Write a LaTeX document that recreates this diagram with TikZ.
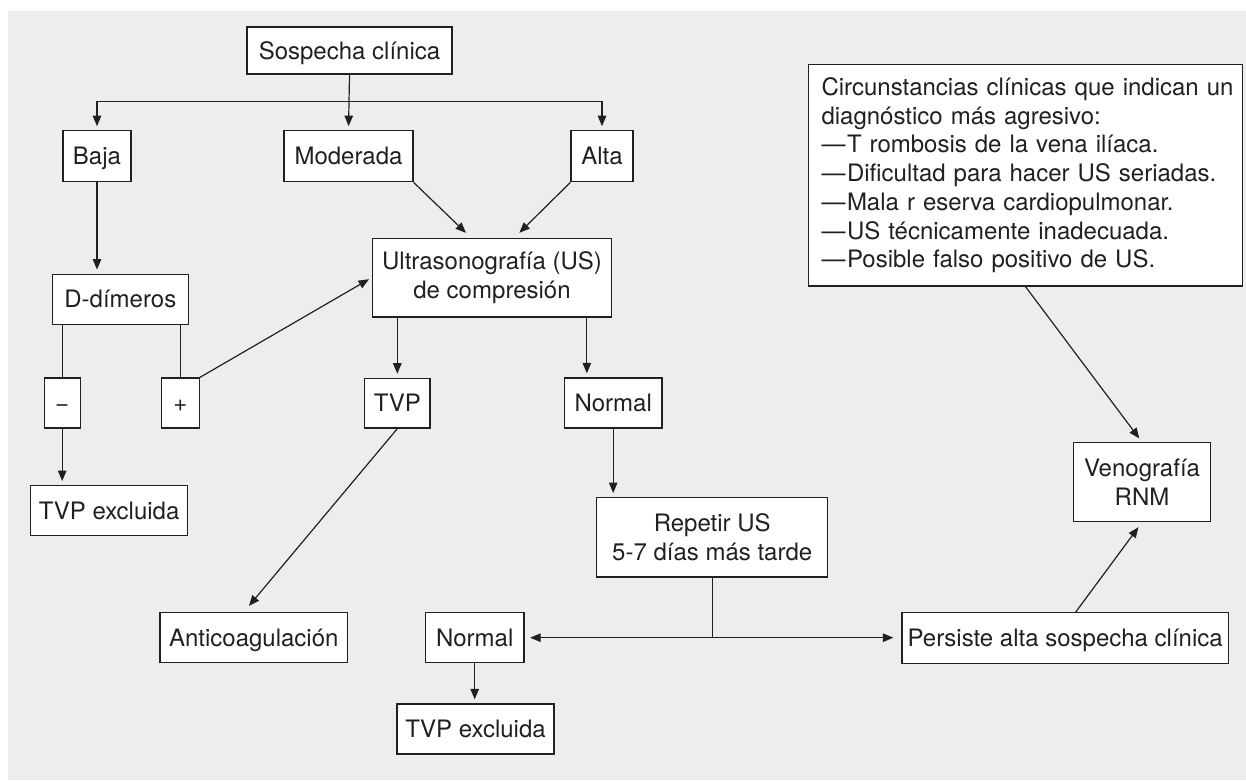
\documentclass[tikz,border=0pt]{standalone}
\usepackage{fontspec}
\setmainfont{TeX Gyre Heros}
\usetikzlibrary{arrows.meta,calc}
\definecolor{ink}{HTML}{231F20}
\definecolor{panel}{HTML}{EDEDED}

\begin{document}
\begin{tikzpicture}[x=1pt,y=-1pt,
  font=\fontsize{24}{28.7}\selectfont,
  box/.style={draw=ink, line width=1.3pt, fill=white, text=ink, inner sep=0pt, align=center},
  one/.style={box, text height=17pt, text depth=0pt},
  two/.style={box},
  sz/.style 2 args={minimum width=#1pt, minimum height=#2pt},
  conn/.style={draw=ink, line width=1.2pt},
  arr/.style={conn, -{Triangle[length=10.5pt,width=8.5pt]}, shorten >=4pt},
]
\useasboundingbox (0,0) rectangle (1246,780);
\fill[panel] (8,11) rectangle (1246,780);

% boxes
\node[one, sz={205}{47}]    (sosp) at (349.5,50.5)  {Sospecha clínica};
\node[one, sz={68}{51}]     (baja) at (97,156.3)    {Baja};
\node[one, sz={129}{51}]    (mod)  at (348.5,156.3) {Moderada};
\node[one, sz={62}{51}]     (alta) at (602,156.3)   {Alta};
\node[one, sz={136}{50}]    (dd)   at (120.3,299.2) {D-dímeros};
\node[one, sz={36}{50}]     (neg)  at (62.2,403)    {−};
\node[one, sz={38}{50}]     (pos)  at (180.3,403)   {+};
\node[two, sz={239.4}{78.7}] (us)  at (492,277.7)   {Ultrasonografía (US)\\de compresión};
\node[one, sz={65.5}{49.7}] (tvp)  at (397.3,403.2) {TVP};
\node[one, sz={97.7}{50}]   (nor1) at (613.2,403)   {Normal};
\node[one, sz={157}{50}]    (exc1) at (109.2,510.7) {TVP excluida};
\node[one, sz={187.7}{50}]  (anti) at (253.8,637.7) {Anticoagulación};
\node[two, sz={231}{79.3}]  (rep)  at (712.2,537.3) {Repetir US\\5-7 días más tarde};
\node[one, sz={98.6}{50}]   (nor2) at (474.7,637.7) {Normal};
\node[one, sz={157}{50}]    (exc2) at (475.5,729)   {TVP excluida};
\node[one, sz={326.4}{50.6}] (pers) at (1065.2,638) {Persiste alta sospecha clínica};
\node[two, sz={137.4}{79}]  (veno) at (1142,482.2)  {Venografía\\RNM};
\node[box, anchor=north west, text width=408pt, inner xsep=12.85pt, inner ysep=13pt, align=left]
  (circ) at (808,64) {%
  \mbox{Circunstancias clínicas que indican un}\\
  \mbox{diagnóstico más agresivo:}\\
  \mbox{—\kern1.5pt T rombosis de la vena ilíaca.}\\
  \mbox{—\kern1.5pt Dificultad para hacer US seriadas.}\\
  \mbox{—\kern1.5pt Mala r eserva cardiopulmonar.}\\
  \mbox{—\kern1.5pt US técnicamente inadecuada.}\\
  \mbox{—\kern1.5pt Posible falso positivo de US.}};

% helper points
\coordinate (split) at ($(sosp.south)+(0,27)$);
\coordinate (usA)   at ($(us.north west)+(99.4,0)$);
\coordinate (usB)   at ($(us.north west)+(142.7,0)$);
\coordinate (usR)   at ($(us.south east)+(-25.5,0)$);
\coordinate (antiT) at ($(anti.north)+(-10,0)$);
\coordinate (fork)  at (rep.south |- nor2.east);
\coordinate (persT) at ($(pers.north)+(10.5,0)$);

% connectors
\draw[arr] (sosp.south) -- (mod.north);
\draw[arr] (split) -| (baja.north);
\draw[arr] (split) -| (alta.north);
\draw[arr, shorten >=7pt] (mod.south east) -- (usA);
\draw[arr, shorten >=7pt] (alta.south west) -- (usB);
\draw[arr] (baja.south) -- (baja.south |- dd.north);
\draw[conn] (neg.north |- dd.south) -- (neg.north);
\draw[conn] (pos.north |- dd.south) -- (pos.north);
\draw[arr] (neg.south) -- (neg.south |- exc1.north);
\draw[arr, shorten >=3pt] (pos.north east) -- (us.west);
\draw[arr] (us.south -| tvp.north) -- (tvp.north);
\draw[arr] (usR) -- (usR |- nor1.north);
\draw[arr, shorten >=8pt] (tvp.south) -- (antiT);
\draw[arr] (nor1.south) -- (nor1.south |- rep.north);
\draw[conn] (rep.south) -- (fork);
\draw[arr, shorten >=5.5pt] (fork) -- (nor2.east);
\draw[arr, shorten >=8pt] (fork) -- (fork -| pers.west);
\draw[arr] (nor2.south) -- (nor2.south |- exc2.north);
\draw[arr, shorten >=6pt] (persT) -- (veno.south);
\draw[arr, shorten >=4.5pt] (circ.south) -- (veno.north);
\end{tikzpicture}
\end{document}
